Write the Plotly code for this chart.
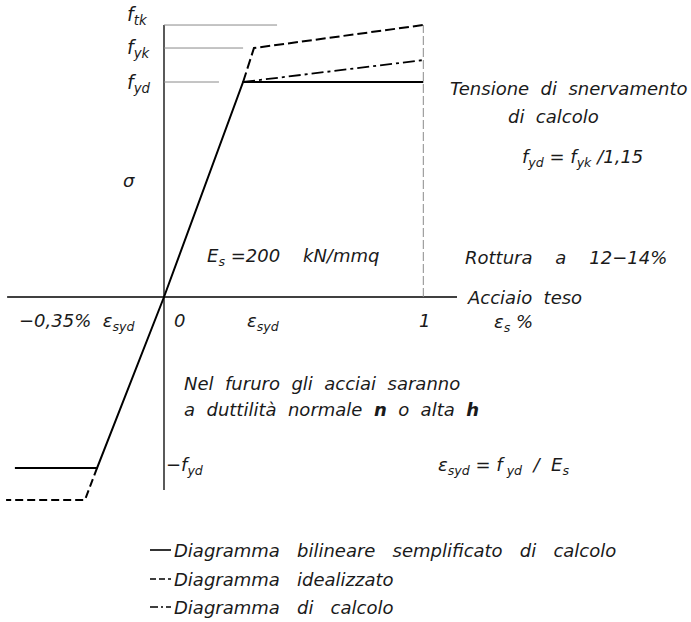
import plotly.graph_objects as go

W, H = 691, 622
# axis scale: origin pixel and units (strain % on x, stress normalised to f_yd on y)
X0, Y0, SX, SY = 164.0, 297.0, 259.3, 215.0

# ---- data (strain in %, stress relative to f_yd) ----
bilin_strain = [-0.575, -0.258, 0.0, 0.305, 1.0]
bilin_stress = [-0.795, -0.795, 0.0, 1.0, 1.0]

ideal_up_strain = [0.305, 0.347, 1.0]
ideal_up_stress = [1.0, 1.158, 1.265]
ideal_dn_strain = [-0.258, -0.305, -0.609]
ideal_dn_stress = [-0.795, -0.944, -0.944]

calc_strain = [0.305, 1.0]
calc_stress = [1.0, 1.102]

f_levels = [1.265, 1.158, 1.0]          # f_tk, f_yk, f_yd
f_line_ends = [0.436, 0.305, 0.212]
f_labels = ["f<sub>tk</sub>", "f<sub>yk</sub>", "f<sub>yd</sub>"]

x_axis_span = [-0.605, 1.13]
y_axis_span = [-0.898, 1.265]
rupture_strain = 1.0

legend_labels = [
    "Diagramma   bilineare   semplificato   di   calcolo",
    "Diagramma   idealizzato",
    "Diagramma   di   calcolo",
]

FONT = "DejaVu Sans"
TXT = "#1a1a1a"


def pxx(v):
    return (v - X0) / SX


def pxy(v):
    return (Y0 - v) / SY


fig = go.Figure()

# axes
fig.add_trace(go.Scatter(x=x_axis_span, y=[0, 0], mode="lines",
                         line=dict(color="black", width=1.3), hoverinfo="skip"))
fig.add_trace(go.Scatter(x=[0, 0], y=y_axis_span, mode="lines",
                         line=dict(color="black", width=1.3), hoverinfo="skip"))
# rupture line
fig.add_trace(go.Scatter(x=[rupture_strain, rupture_strain], y=[0, f_levels[0]], mode="lines",
                         line=dict(color="#8a8a8a", width=1, dash="9px,3px"), hoverinfo="skip"))
# reference levels
for lv, end in zip(f_levels, f_line_ends):
    fig.add_trace(go.Scatter(x=[0, end], y=[lv, lv], mode="lines",
                             line=dict(color="#8a8a8a", width=1), hoverinfo="skip"))

# curves
fig.add_trace(go.Scatter(x=bilin_strain, y=bilin_stress, mode="lines",
                         line=dict(color="black", width=2), hoverinfo="skip"))
fig.add_trace(go.Scatter(x=ideal_up_strain, y=ideal_up_stress, mode="lines",
                         line=dict(color="black", width=2, dash="10px,4px"), hoverinfo="skip"))
fig.add_trace(go.Scatter(x=ideal_dn_strain, y=ideal_dn_stress, mode="lines",
                         line=dict(color="black", width=2, dash="8px,4px"), hoverinfo="skip"))
fig.add_trace(go.Scatter(x=calc_strain, y=calc_stress, mode="lines",
                         line=dict(color="black", width=1.8, dash="12px,4px,3px,4px"), hoverinfo="skip"))

# legend samples
leg_y = [550, 579, 607]
leg_dash = ["solid", "6px,3px", "8px,3px,2px,3px"]
for yy, d in zip(leg_y, leg_dash):
    fig.add_trace(go.Scatter(x=[pxx(150), pxx(171)], y=[pxy(yy), pxy(yy)], mode="lines",
                             line=dict(color="black", width=1.6, dash=d), hoverinfo="skip"))

ann = []


def text(t, x, y, anchor="left", size=18):
    ann.append(dict(text=t, x=pxx(x), y=pxy(y), xref="x", yref="y", showarrow=False,
                    xanchor=anchor, yanchor="middle",
                    font=dict(family=FONT, size=size, color=TXT, style="italic")))


# stress labels
text(f_labels[0], 125, 15, size=19)
text(f_labels[1], 125, 48, size=19)
text(f_labels[2], 125, 83, size=19)
text("σ", 121, 180)

text("Tensione  di  snervamento", 689, 88, anchor="right")
text("di  calcolo", 553, 116, anchor="center")
text("f<sub>yd</sub> = f<sub>yk</sub> /1,15", 582, 158, anchor="center")

text("E<sub>s</sub> =200    kN/mmq", 205, 257)
text("Rottura    a    12−14%", 463, 257)
text("Acciaio  teso", 465, 297)

text("−0,35%  ε<sub>syd</sub>", 17, 322)
text("0", 172, 320)
text("ε<sub>syd</sub>", 245, 322)
text("1", 424, 320, anchor="center")
text("ε<sub>s</sub> %", 492, 323)

text("Nel  fururo  gli  acciai  saranno", 182, 383)
text("a  duttilità  normale  <b>n</b>  o  alta  <b>h</b>", 182, 409)
text("−f<sub>yd</sub>", 164, 466)
text("ε<sub>syd</sub> = f<sub> yd</sub>  /  E<sub>s</sub>", 436, 466)

for yy, lab in zip(leg_y, legend_labels):
    text(lab, 172, yy)

fig.update_layout(
    width=W, height=H,
    margin=dict(l=0, r=0, t=0, b=0),
    paper_bgcolor="white", plot_bgcolor="white",
    showlegend=False,
    annotations=ann,
    xaxis=dict(range=[pxx(0), pxx(W)], visible=False, fixedrange=True),
    yaxis=dict(range=[pxy(H), pxy(0)], visible=False, fixedrange=True),
)

fig.write_html("out.html")
